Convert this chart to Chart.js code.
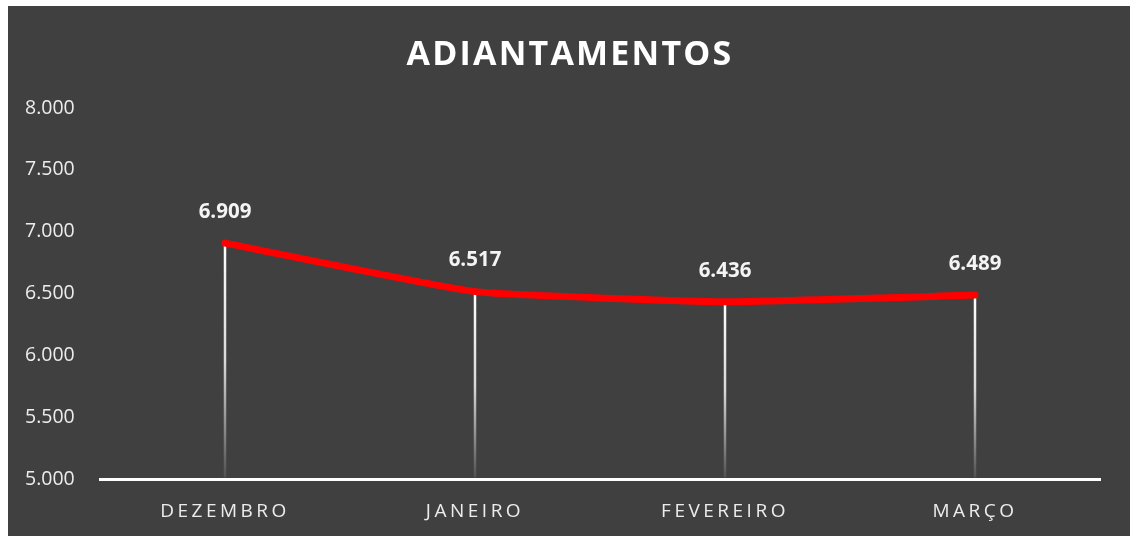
<!DOCTYPE html>
<html>
<head>
<meta charset="utf-8">
<script src="https://cdn.jsdelivr.net/npm/chart.js@4.4.1/dist/chart.umd.min.js"></script>
<style>
    html, body { margin: 0; padding: 0; background: #ffffff; }
    #wrap {
        position: absolute;
        left: 8px; top: 6px;
        width: 1122px; height: 530px;
        background: #404040;
    }
</style>
</head>
<body>
<div id="wrap"><canvas id="adiantChart"></canvas></div>
<script>
const TITLE = 'ADIANTAMENTOS';
const MONTHS = ['DEZEMBRO', 'JANEIRO', 'FEVEREIRO', 'MARÇO'];
const VALUES = [6909, 6517, 6436, 6489];
const Y_MIN = 5000;
const Y_MAX = 8000;
const Y_STEP = 500;

const TEXT_COLOR = '#ececec';

function fmt(v) {
    return String(Math.round(v)).replace(/\B(?=(\d{3})+(?!\d))/g, '.');
}

// category axis that draws its labels with letter spacing
class SpacedCategoryScale extends Chart.CategoryScale {
    drawLabels(chartArea) {
        const ctx = this.ctx;
        ctx.save();
        ctx.letterSpacing = '3.5px';
        super.drawLabels(chartArea);
        ctx.restore();
    }
}
SpacedCategoryScale.id = 'spacedCategory';
SpacedCategoryScale.defaults = Chart.CategoryScale.defaults;
Chart.register(SpacedCategoryScale);

// title drawn by hand so it can have letter spacing
const titlePlugin = {
    id: 'spacedTitle',
    beforeDraw(chart) {
        const ctx = chart.ctx;
        ctx.save();
        ctx.font = 'bold 34px "Open Sans"';
        ctx.letterSpacing = '2.2px';
        ctx.fillStyle = '#ffffff';
        ctx.textAlign = 'center';
        ctx.textBaseline = 'alphabetic';
        ctx.fillText(TITLE, chart.width / 2 + 1, 59);
        ctx.restore();
    }
};

// white drop lines from each point down to the axis, fading out
const dropLines = {
    id: 'dropLines',
    beforeDatasetsDraw(chart) {
        const ctx = chart.ctx;
        const meta = chart.getDatasetMeta(0);
        const bottom = chart.chartArea.bottom;
        ctx.save();
        ctx.lineWidth = 2.5;
        meta.data.forEach(pt => {
            const g = ctx.createLinearGradient(0, pt.y, 0, bottom);
            g.addColorStop(0, 'rgba(255,255,255,1)');
            g.addColorStop(0.5, 'rgba(255,255,255,0.8)');
            g.addColorStop(1, 'rgba(255,255,255,0.08)');
            ctx.strokeStyle = g;
            ctx.beginPath();
            ctx.moveTo(pt.x, pt.y);
            ctx.lineTo(pt.x, bottom - 2);
            ctx.stroke();
        });
        ctx.restore();
    }
};

// value labels above the points
const valueLabels = {
    id: 'valueLabels',
    afterDatasetsDraw(chart) {
        const ctx = chart.ctx;
        const meta = chart.getDatasetMeta(0);
        const data = chart.data.datasets[0].data;
        ctx.save();
        ctx.font = 'bold 20.5px "Open Sans"';
        ctx.fillStyle = '#f4f4f4';
        ctx.textAlign = 'center';
        ctx.textBaseline = 'middle';
        meta.data.forEach((pt, i) => {
            ctx.fillText(fmt(data[i]), pt.x, pt.y - 31);
        });
        ctx.restore();
    }
};

const ctx = document.getElementById('adiantChart').getContext('2d');
new Chart(ctx, {
    type: 'line',
    data: {
        labels: MONTHS,
        datasets: [{
            data: VALUES,
            borderColor: '#ff0000',
            borderWidth: 7,
            borderCapStyle: 'round',
            borderJoinStyle: 'round',
            tension: 0.12,
            pointRadius: 0,
            pointHoverRadius: 0,
            fill: false
        }]
    },
    options: {
        responsive: true,
        maintainAspectRatio: false,
        animation: false,
        events: [],
        layout: { padding: { left: 17, right: 30, top: 102, bottom: 0 } },
        plugins: {
            legend: { display: false },
            title: { display: false },
            tooltip: { enabled: false }
        },
        scales: {
            x: {
                type: 'spacedCategory',
                offset: true,
                grid: { display: false, drawTicks: false },
                border: { display: true, color: '#ffffff', width: 3 },
                ticks: {
                    color: TEXT_COLOR,
                    font: { family: 'Open Sans', size: 19 },
                    padding: 21
                },
                afterFit(scale) { scale.height = 56.5; }
            },
            y: {
                min: Y_MIN,
                max: Y_MAX,
                grid: { display: false, drawTicks: false },
                border: { display: false },
                ticks: {
                    stepSize: Y_STEP,
                    color: TEXT_COLOR,
                    crossAlign: 'far',
                    font: { family: 'Open Sans', size: 19.5 },
                    callback: v => fmt(v)
                },
                afterFit(scale) { scale.width = 75; }
            }
        }
    },
    plugins: [titlePlugin, dropLines, valueLabels]
});
</script>
</body>
</html>
